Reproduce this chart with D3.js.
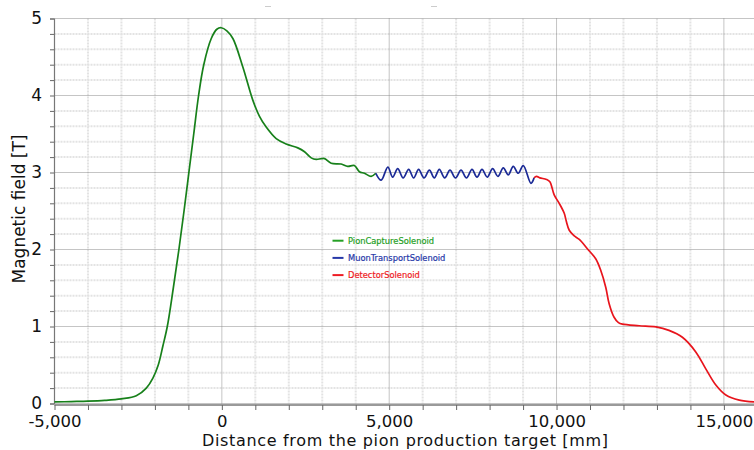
<!DOCTYPE html>
<html><head><meta charset="utf-8">
<script src="https://cdn.jsdelivr.net/npm/d3@7"></script>
<style>
html,body{margin:0;padding:0;background:#fff;}
svg{display:block;font-family:"DejaVu Sans",sans-serif;}
</style></head>
<body>
<svg id="chart" width="754" height="450"></svg>
<script>
// ---- data ----
const xTicks = [-5000,-4000,-3000,-2000,-1000,0,1000,2000,3000,4000,5000,6000,7000,8000,9000,10000,11000,12000,13000,14000,15000];
const xLabelTicks = [-5000,0,5000,10000,15000];
const yTicks = [0,0.2,0.4,0.6,0.8,1,1.2,1.4,1.6,1.8,2,2.2,2.4,2.6,2.8,3,3.2,3.4,3.6,3.8,4,4.2,4.4,4.6,4.8,5];
const yLabelTicks = [0,1,2,3,4,5];
const seriesNames = ["PionCaptureSolenoid","MuonTransportSolenoid","DetectorSolenoid"];

const pionX = [-5000,-4500,-4000,-3500,-3000,-2556,-2257,-2060,-1900,-1760,-1630,-1450,-1283,-1130,-985,-840,-695,-540,-316,-150,-18,150,330,627,925,1125,1325,1624,1922,2270,2470,2670,2820,2970,3070,3267,3565,3760,3960,4110,4260,4460,4600];
const pionY = [0.02,0.025,0.03,0.04,0.06,0.1,0.2,0.33,0.5,0.75,1.0,1.5,2.0,2.5,3.0,3.5,4.0,4.4,4.74,4.86,4.88,4.84,4.74,4.37,3.94,3.73,3.59,3.44,3.37,3.32,3.27,3.19,3.17,3.18,3.18,3.12,3.11,3.08,3.09,3.01,2.99,2.95,2.99];

const muonX = [4600,4760,4960,5105,5254,5418,5582,5731,5880,6040,6200,6349,6498,6658,6817,6981,7146,7310,7474,7624,7773,7931,8090,8250,8409,8558,8707,8856,9006,9236,9330];
const muonY = [2.99,2.90,3.07,2.94,3.05,2.93,3.04,2.93,3.04,2.93,3.03,2.93,3.04,2.93,3.03,2.93,3.03,2.93,3.04,2.94,3.04,2.94,3.05,2.95,3.06,2.97,3.08,2.99,3.09,2.86,2.93];

const detX = [9330,9400,9500,9700,9800,9930,10080,10230,10290,10380,10520,10680,10920,11170,11320,11470,11570,11720,11850,11970,12470,12970,13360,13760,14160,14460,14760,15060,15460,15900];
const detY = [2.93,2.95,2.93,2.91,2.88,2.71,2.60,2.47,2.37,2.25,2.18,2.13,2.01,1.88,1.73,1.51,1.30,1.12,1.05,1.03,1.01,0.995,0.95,0.86,0.67,0.45,0.24,0.11,0.043,0.02];

// ---- layout ----
const svg = d3.select("#chart");
const x = d3.scaleLinear().domain([-5000,15900]).range([54.5,754]);
const y = d3.scaleLinear().domain([0,5]).range([403.5,18.5]);

// minor grid
const grid = svg.append("g");
grid.selectAll("line.vmin").data(xTicks.filter(d=>d%5000!==0)).join("line")
  .attr("x1",d=>x(d)).attr("x2",d=>x(d)).attr("y1",y(5)).attr("y2",y(0))
  .attr("stroke","#e3e3e3").attr("stroke-width",2).attr("stroke-dasharray","2,1");
grid.selectAll("line.hmin").data(yTicks.filter(d=>Math.abs(d-Math.round(d))>1e-6)).join("line")
  .attr("x1",x(-5000)).attr("x2",754).attr("y1",d=>y(d)).attr("y2",d=>y(d))
  .attr("stroke","#e3e3e3").attr("stroke-width",2).attr("stroke-dasharray","2,1");
// major grid
grid.selectAll("line.vmaj").data(xLabelTicks.filter(d=>d>-5000)).join("line")
  .attr("x1",d=>x(d)).attr("x2",d=>x(d)).attr("y1",y(5)).attr("y2",y(0))
  .attr("stroke","#8a8a8a").attr("stroke-width",1).attr("stroke-dasharray","1,1");
grid.selectAll("line.hmaj").data(yLabelTicks).join("line")
  .attr("x1",x(-5000)).attr("x2",754).attr("y1",d=>y(d)).attr("y2",d=>y(d))
  .attr("stroke","#8a8a8a").attr("stroke-width",1).attr("stroke-dasharray","1,1");

// axes
const fmt = d3.format(",");
const xAxis = d3.axisBottom(x).tickValues(xTicks)
  .tickFormat(d => xLabelTicks.includes(d) ? fmt(d).replace("\u2212","-") : "")
  .tickSize(5).tickPadding(5.3);
const gx = svg.append("g").attr("transform","translate(0,405)").call(xAxis);
gx.select(".domain").attr("stroke","#9a9a9a").attr("stroke-width",2).attr("d","M54.5,0H754");
gx.selectAll(".tick line").attr("stroke","#666");
gx.selectAll(".tick text").attr("font-size",16.5).attr("fill","#111").attr("font-family","DejaVu Sans");

const yAxis = d3.axisLeft(y).tickValues(yTicks)
  .tickFormat(d => yLabelTicks.some(v=>Math.abs(v-d)<1e-6) ? d3.format("d")(d) : "")
  .tickSize(4).tickPadding(8);
const gy = svg.append("g").attr("transform","translate(54,0)").call(yAxis);
gy.select(".domain").attr("stroke","#777").attr("stroke-width",1.2);
gy.selectAll(".tick line").attr("stroke","#666");
gy.selectAll(".tick text").attr("font-size",17).attr("fill","#111").attr("font-family","DejaVu Sans");

// lines
const mk = (xs,ys)=>xs.map((v,i)=>[v,ys[i]]);
const lineC = d3.line().x(d=>x(d[0])).y(d=>y(d[1])).curve(d3.curveCatmullRom.alpha(0.5));
const colors = ["#17801a","#1b2a96","#e8141c"];
svg.append("path").attr("d",lineC(mk(pionX,pionY))).attr("fill","none").attr("stroke",colors[0]).attr("stroke-width",1.7);
svg.append("path").attr("d",lineC(mk(muonX,muonY))).attr("fill","none").attr("stroke",colors[1]).attr("stroke-width",1.7);
svg.append("path").attr("d",lineC(mk(detX,detY))).attr("fill","none").attr("stroke",colors[2]).attr("stroke-width",1.7);

// legend
const legColors = ["#25a025","#2638a8","#ee1c24"];
const leg = svg.append("g");
seriesNames.forEach((n,i)=>{
  const yy = 240.7 + i*17.2;
  leg.append("line").attr("x1",332.5).attr("x2",343.5).attr("y1",yy).attr("y2",yy).attr("stroke",legColors[i]).attr("stroke-width",2);
  leg.append("text").attr("x",348).attr("y",yy+3).attr("font-size",8.3).attr("fill",legColors[i])
    .attr("stroke",legColors[i]).attr("stroke-width",0.2).text(n);
});

// titles
svg.append("text").attr("x",405).attr("y",446.2).attr("text-anchor","middle").attr("font-size",16)
  .attr("textLength",406).attr("lengthAdjust","spacing").attr("fill","#111")
  .text("Distance from the pion production target [mm]");
svg.append("text").attr("transform","translate(25,209) rotate(-90)").attr("text-anchor","middle").attr("font-size",17).attr("fill","#111")
  .text("Magnetic field [T]");

// faint marks at top
svg.append("line").attr("x1",265).attr("x2",271).attr("y1",6.5).attr("y2",6.5).attr("stroke","#ccc").attr("stroke-width",1);
svg.append("line").attr("x1",431).attr("x2",437).attr("y1",6.5).attr("y2",6.5).attr("stroke","#ccc").attr("stroke-width",1);
</script>
</body></html>
